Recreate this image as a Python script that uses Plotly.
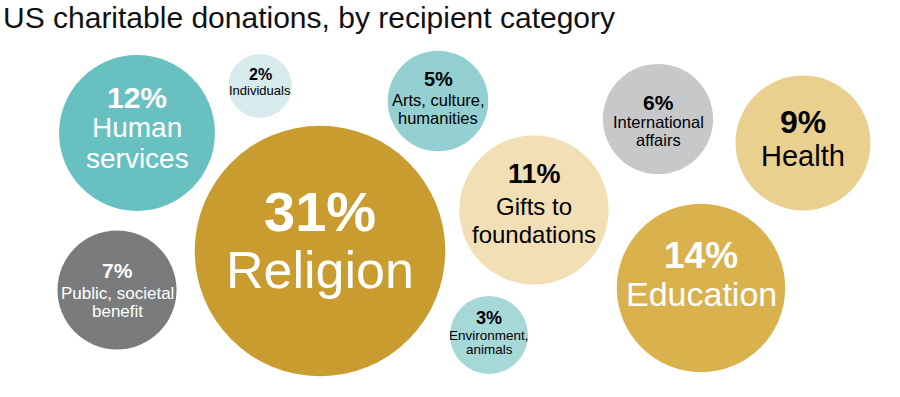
import plotly.graph_objects as go
import math

# ---- data ----
categories = ["Religion", "Education", "Human services", "Gifts to foundations", "Health",
              "Public, societal benefit", "International affairs", "Arts, culture, humanities",
              "Environment, animals", "Individuals"]
shares = [31, 14, 12, 11, 9, 7, 6, 5, 3, 2]
label_lines = [["Religion"], ["Education"], ["Human", "services"], ["Gifts to", "foundations"],
               ["Health"], ["Public, societal", "benefit"], ["International", "affairs"],
               ["Arts, culture,", "humanities"], ["Environment,", "animals"], ["Individuals"]]

# ---- layout (bubble centres in pixel space) ----
bx = [320, 701, 137, 534, 803, 117, 658, 438, 489, 260]
by = [251, 288, 133, 210, 143, 290, 119, 101, 335, 86]
colors = ["#C99C30", "#D9B24E", "#69C0C1", "#F2DFB5", "#EAD08E",
          "#797B7D", "#C7C8CA", "#94D0D1", "#A7D8D8", "#D7EBEC"]
text_col = ["white", "white", "white", "black", "black", "white", "black", "black", "black", "black"]
pct_size = [56, 37, 30, 27, 32, 21, 21, 20, 18, 16]
lab_size = [52, 34, 28, 24, 29, 17, 16.5, 16.5, 13.5, 13]
pct_off = [-40, -33, -35.5, -36, -21.5, -20, -17, -22.5, -17.5, -12]
lab_off = [[19], [5.5], [-5.5, 25], [-3.5, 24.5], [13], [3, 21.5], [3, 21],
           [-1, 16.5], [0, 14.5], [4]]

K = 22.5  # px radius per sqrt(percent)
sizes = [2 * K * math.sqrt(v) for v in shares]

FONT = "Liberation Sans, Arial, sans-serif"

fig = go.Figure()
fig.add_trace(go.Scatter(
    x=bx, y=by, mode="markers",
    marker=dict(size=sizes, sizemode="diameter", color=colors, opacity=1, line=dict(width=0)),
    text=categories, hoverinfo="text", showlegend=False,
))

ann = []
for i, cat in enumerate(categories):
    ann.append(dict(x=bx[i], y=by[i] + pct_off[i], text=f"<b>{shares[i]}%</b>",
                    showarrow=False, xanchor="center", yanchor="middle",
                    font=dict(family=FONT, size=pct_size[i], color=text_col[i])))
    for j, line in enumerate(label_lines[i]):
        ann.append(dict(x=bx[i], y=by[i] + lab_off[i][j], text=line,
                        showarrow=False, xanchor="center", yanchor="middle",
                        font=dict(family=FONT, size=lab_size[i], color=text_col[i])))

ann.append(dict(x=1, y=17, xref="x", yref="y", text="US charitable donations, by recipient category",
                showarrow=False, xanchor="left", yanchor="middle",
                font=dict(family=FONT, size=30, color="#111111")))

fig.update_layout(
    width=900, height=397,
    margin=dict(l=0, r=0, t=0, b=0),
    paper_bgcolor="white", plot_bgcolor="white",
    xaxis=dict(range=[0, 900], visible=False, fixedrange=True),
    yaxis=dict(range=[397, 0], visible=False, fixedrange=True),
    annotations=ann,
)

fig.write_html("out.html", config={"displayModeBar": False},
               post_script="document.body.style.margin='0';")
